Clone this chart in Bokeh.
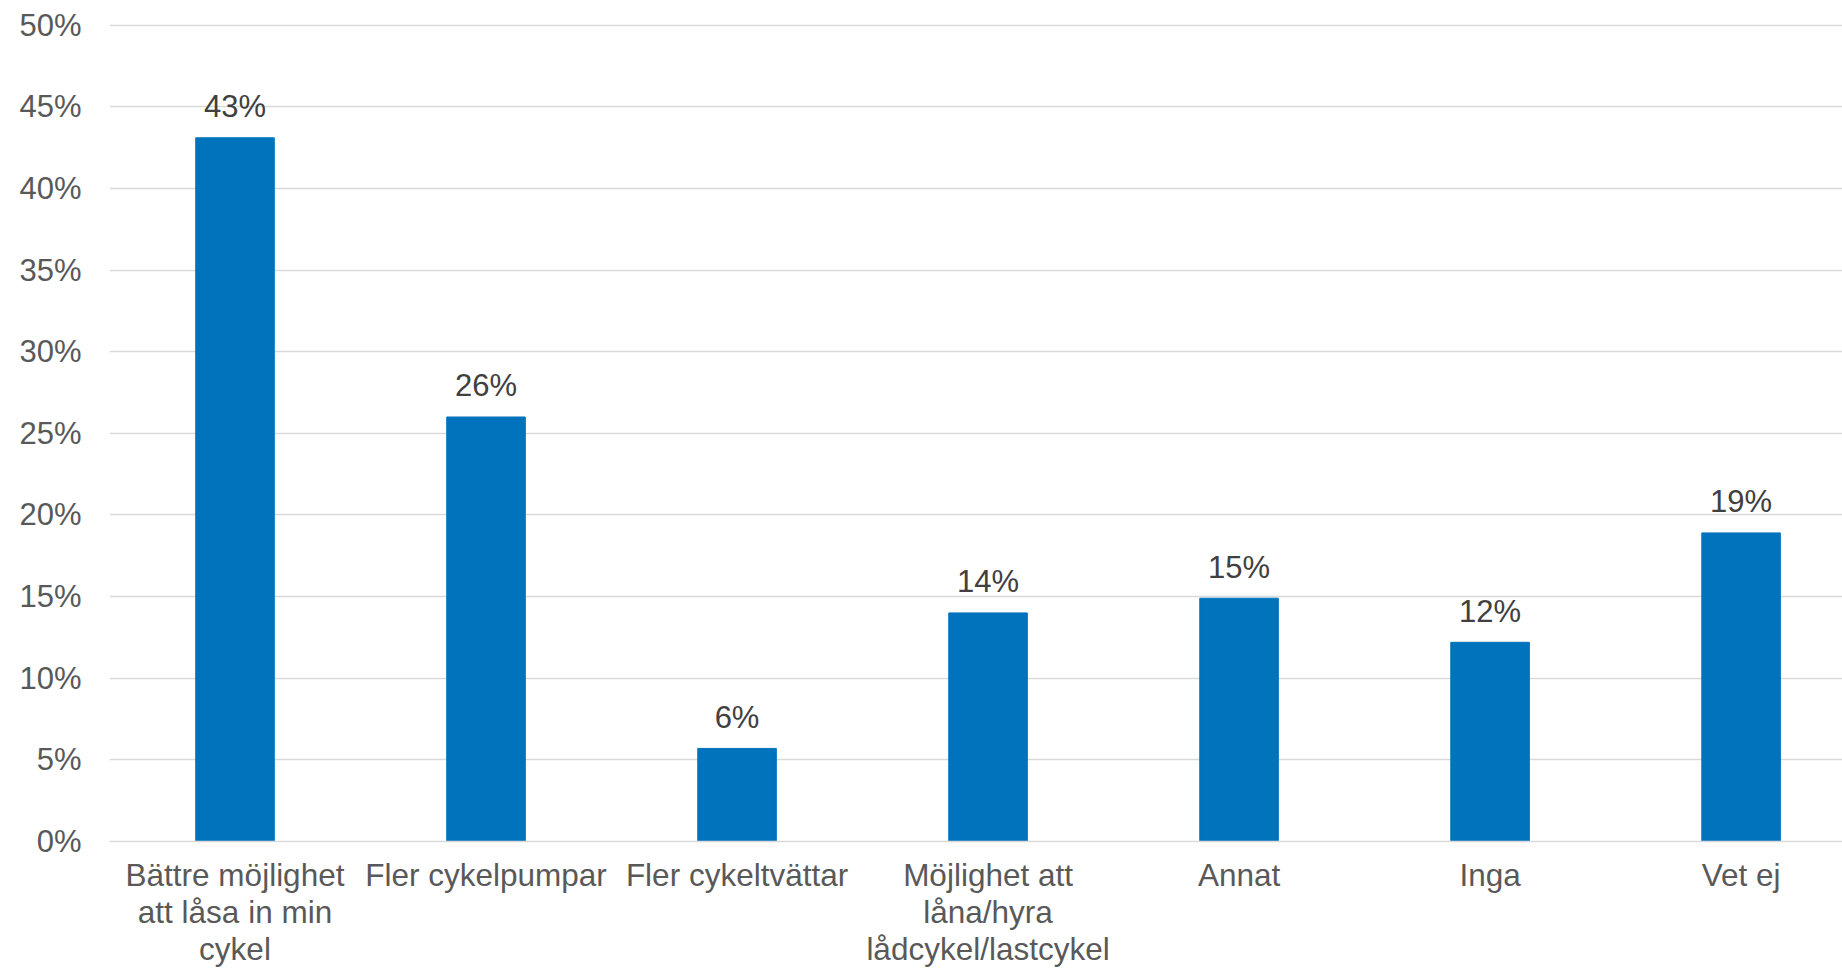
from bokeh.plotting import figure
from bokeh.models import ColumnDataSource, FixedTicker, PrintfTickFormatter, Range1d
from bokeh.core.properties import value
from bokeh.embed import file_html
from bokeh.resources import INLINE

# Survey answers: share of respondents (%) per suggested improvement
categories = [
    "Bättre möjlighet\natt låsa in min\ncykel",
    "Fler cykelpumpar",
    "Fler cykeltvättar",
    "Möjlighet att\nlåna/hyra\nlådcykel/lastcykel",
    "Annat",
    "Inga",
    "Vet ej",
]
shares = [43.1, 26.0, 5.7, 14.0, 14.9, 12.2, 18.9]
y_ticks = [0, 5, 10, 15, 20, 25, 30, 35, 40, 45, 50]

FONT = "Liberation Sans"
BAR_COLOR = "#0173bc"
GRID_COLOR = "#d9d9d9"

xs = list(range(len(categories)))
source = ColumnDataSource(dict(
    x=xs,
    share=shares,
    label=[f"{v:.0f}%" for v in shares],
))

p = figure(
    width=1842, height=970,
    x_range=Range1d(-0.5, 6.404), y_range=Range1d(0, 50.1),
    output_backend="svg", toolbar_location=None,
    min_border_left=109, min_border_right=0,
    min_border_top=23, min_border_bottom=129,
)
p.outline_line_color = None
p.background_fill_color = "white"
p.border_fill_color = "white"

p.vbar(x="x", top="share", width=0.313, source=source,
       fill_color=BAR_COLOR, line_color=BAR_COLOR, line_width=1)

p.text(x="x", y="share", text="label", source=source,
       text_align="center", text_baseline="alphabetic", y_offset=-31,
       text_font=value(FONT), text_font_size="31px", text_color="#404040")

# Horizontal grid
p.xgrid.grid_line_color = None
p.ygrid.grid_line_color = GRID_COLOR
p.ygrid.grid_line_width = 1.5
p.ygrid.ticker = FixedTicker(ticks=y_ticks)

# Y axis: percent labels, no line or ticks
p.yaxis.ticker = FixedTicker(ticks=y_ticks)
p.yaxis.formatter = PrintfTickFormatter(format="%d%%")
p.yaxis.axis_line_color = None
p.yaxis.major_tick_line_color = None
p.yaxis.minor_tick_line_color = None
p.yaxis.major_label_standoff = 22
p.yaxis.major_label_text_font = FONT
p.yaxis.major_label_text_font_size = "31px"
p.yaxis.major_label_text_color = "#595959"

# X axis: category names, multi-line
p.xaxis.ticker = FixedTicker(ticks=xs)
p.xaxis.major_label_overrides = {i: c for i, c in zip(xs, categories)}
p.xaxis.axis_line_color = GRID_COLOR
p.xaxis.axis_line_width = 1.5
p.xaxis.major_tick_line_color = None
p.xaxis.minor_tick_line_color = None
p.xaxis.major_label_standoff = 9
p.xaxis.major_label_text_font = FONT
p.xaxis.major_label_text_font_size = "31.5px"
p.xaxis.major_label_text_line_height = 1.03
p.xaxis.major_label_text_color = "#595959"

open("out.html", "w").write(file_html(p, INLINE))
